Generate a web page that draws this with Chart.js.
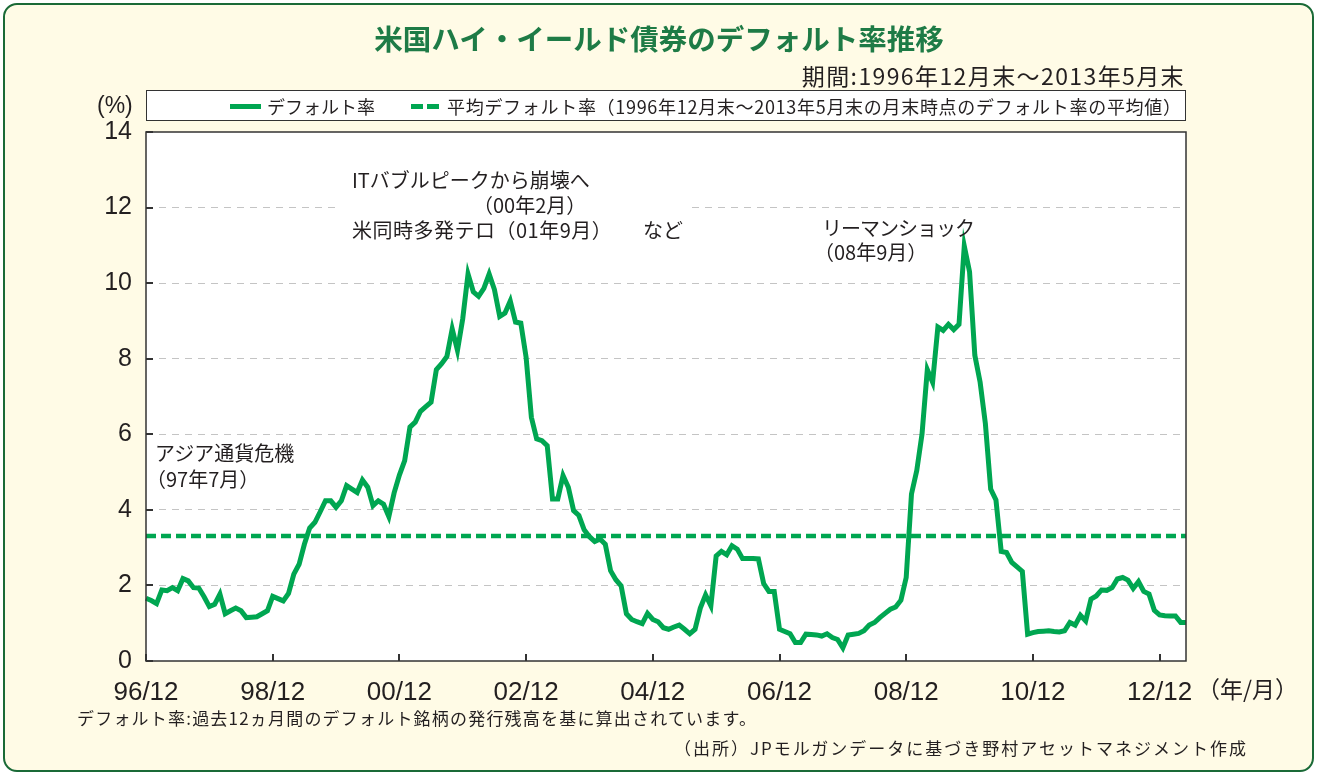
<!DOCTYPE html>
<html lang="ja">
<head>
<meta charset="UTF-8">
<title>米国ハイ・イールド債券のデフォルト率推移</title>
<script src="https://cdn.jsdelivr.net/npm/chart.js"></script>
<style>
    body { margin: 0; background: #ffffff; }
    #page {
        position: relative;
        width: 1318px;
        height: 775px;
        overflow: hidden;
        font-family: 'Noto Sans CJK JP', 'Noto Sans', sans-serif;
        color: #231f20;
    }
    #frame {
        position: absolute;
        left: 3px; top: 3px;
        width: 1307px; height: 765px;
        border: 2.5px solid #1a6a37;
        border-radius: 14px;
        background: #fffbe6;
    }
    #chart { position: absolute; left: 0; top: 0; }
    .txt { position: absolute; white-space: nowrap; }
    #title {
        left: 0; width: 1318px; text-align: center;
        top: 23px; line-height: 30px;
        font-size: 28.5px; font-weight: bold; color: #1e7b46;
    }
    #period { right: 133px; top: 62px; line-height: 26px; font-size: 23px; letter-spacing: 1.4px; }
    #unit { left: 97px; top: 92px; line-height: 26px; font-size: 23px; font-family: 'Liberation Sans', Arial, sans-serif; }
    #legend {
        position: absolute;
        left: 146px; top: 90px;
        width: 1038px; height: 29px;
        border: 1.5px solid #333;
        background: #fff;
    }
    .swatch { position: absolute; height: 5px; background: #00a651; top: 13px; }
    .legtxt { position: absolute; top: 3px; line-height: 24px; font-size: 18px; }
    .note { font-size: 20px; line-height: 25px; }
    #itbox { position: absolute; left: 335px; top: 164px; width: 355px; height: 78px; background: #fff; }
    #xunit { left: 1197px; top: 675px; line-height: 26px; font-size: 23px; }
    #foot { left: 77px; top: 707px; line-height: 22px; font-size: 17px; letter-spacing: 1.2px; }
    #source { right: 70px; top: 737px; line-height: 22px; font-size: 17px; letter-spacing: 2px; }
</style>
</head>
<body>
<div id="page">
    <div id="frame"></div>
    <canvas id="chart" width="1318" height="775"></canvas>

    <div class="txt" id="title">米国ハイ・イールド債券のデフォルト率推移</div>
    <div class="txt" id="period">期間:1996年12月末～2013年5月末</div>
    <div class="txt" id="unit">(%)</div>

    <div id="legend">
        <div class="swatch" style="left:83px; width:31px;"></div>
        <div class="txt legtxt" style="left:120px;">デフォルト率</div>
        <div class="swatch" style="left:264px; width:12px;"></div>
        <div class="swatch" style="left:280px; width:12px;"></div>
        <div class="txt legtxt" style="left:300px; letter-spacing:0.7px;">平均デフォルト率（1996年12月末～2013年5月末の月末時点のデフォルト率の平均値）</div>
    </div>

    <div id="itbox"></div>
    <div class="txt note" style="left:352px; top:167px;">ITバブルピークから崩壊へ</div>
    <div class="txt note" style="left:473px; top:192px;">（00年2月）</div>
    <div class="txt note" style="left:352px; top:217px; letter-spacing:0.5px;">米同時多発テロ（01年9月）</div>
    <div class="txt note" style="left:643px; top:217px;">など</div>

    <div class="txt note" style="left:822px; top:215px; letter-spacing:-1px;">リーマンショック</div>
    <div class="txt note" style="left:814px; top:239px;">（08年9月）</div>

    <div class="txt note" style="left:155px; top:440px;">アジア通貨危機</div>
    <div class="txt note" style="left:146px; top:466px;">（97年7月）</div>

    <div class="txt" id="xunit">（年/月）</div>
    <div class="txt" id="foot">デフォルト率:過去12ヵ月間のデフォルト銘柄の発行残高を基に算出されています。</div>
    <div class="txt" id="source">（出所）JPモルガンデータに基づき野村アセットマネジメント作成</div>
</div>

<script>
    // monthly default rate (%), 1996/12 - 2013/5
    const defaultRate = [
        1.66, 1.60, 1.52, 1.88, 1.86, 1.94, 1.86, 2.18, 2.12, 1.94, 1.93, 1.70,
        1.44, 1.50, 1.77, 1.25, 1.33, 1.40, 1.33, 1.15, 1.16, 1.17, 1.25, 1.33,
        1.71, 1.65, 1.59, 1.79, 2.30, 2.56, 3.09, 3.52, 3.67, 3.95, 4.24, 4.24,
        4.07, 4.24, 4.64, 4.55, 4.46, 4.79, 4.60, 4.11, 4.24, 4.15, 3.82, 4.45,
        4.92, 5.30, 6.19, 6.32, 6.61, 6.73, 6.85, 7.71, 7.87, 8.06, 8.79, 8.22,
        9.06, 10.24, 9.77, 9.65, 9.86, 10.24, 9.83, 9.12, 9.21, 9.53, 8.97, 8.94,
        8.04, 6.45, 5.88, 5.83, 5.70, 4.29, 4.29, 4.91, 4.60, 3.98, 3.85, 3.47,
        3.29, 3.16, 3.23, 3.09, 2.39, 2.15, 1.99, 1.25, 1.10, 1.04, 0.99, 1.26,
        1.10, 1.04, 0.88, 0.84, 0.90, 0.95, 0.84, 0.72, 0.84, 1.40, 1.75, 1.46,
        2.78, 2.90, 2.81, 3.05, 2.96, 2.71, 2.71, 2.71, 2.70, 2.05, 1.84, 1.84,
        0.84, 0.78, 0.72, 0.49, 0.49, 0.71, 0.70, 0.69, 0.66, 0.72, 0.62, 0.57,
        0.35, 0.69, 0.71, 0.73, 0.80, 0.95, 1.02, 1.15, 1.26, 1.37, 1.43, 1.61,
        2.21, 4.42, 5.04, 6.01, 7.71, 7.38, 8.84, 8.75, 8.91, 8.77, 8.91, 10.98,
        10.30, 8.09, 7.38, 6.28, 4.55, 4.26, 2.90, 2.87, 2.61, 2.49, 2.37, 0.71,
        0.75, 0.78, 0.79, 0.80, 0.78, 0.77, 0.80, 1.02, 0.95, 1.21, 1.06, 1.64,
        1.72, 1.88, 1.87, 1.94, 2.17, 2.21, 2.14, 1.92, 2.10, 1.84, 1.77, 1.34,
        1.22, 1.20, 1.19, 1.19, 1.02, 1.02
    ];
    const averageRate = 3.31;
    const xTickLabels = ['96/12', '98/12', '00/12', '02/12', '04/12', '06/12', '08/12', '10/12', '12/12'];
    const yTicks = [0, 2, 4, 6, 8, 10, 12, 14];

    // month labels yy/mm starting at 96/12
    const months = defaultRate.map((v, i) => {
        const y = 1996 + Math.floor((11 + i) / 12);
        const m = (11 + i) % 12 + 1;
        return String(y).slice(2) + '/' + String(m).padStart(2, '0');
    });

    const GREEN = '#00a651';
    const fontFamily = "'Liberation Sans', Arial, sans-serif";

    // white plot area, frame and inward tick marks
    const framePlugin = {
        id: 'framePlugin',
        beforeDraw(chart) {
            const a = chart.chartArea, ctx = chart.ctx;
            ctx.save();
            ctx.fillStyle = '#ffffff';
            ctx.fillRect(a.left, a.top, a.right - a.left, a.bottom - a.top);
            ctx.restore();
        },
        afterDraw(chart) {
            const a = chart.chartArea, ctx = chart.ctx;
            const xs = chart.scales.x, ys = chart.scales.y;
            ctx.save();
            ctx.strokeStyle = '#333';
            ctx.lineWidth = 1.5;
            ctx.strokeRect(a.left, a.top, a.right - a.left, a.bottom - a.top);
            ctx.lineWidth = 2;
            ctx.beginPath();
            yTicks.forEach(v => {
                const py = Math.round(ys.getPixelForValue(v));
                ctx.moveTo(a.left, py);
                ctx.lineTo(a.left + 7, py);
            });
            xTickLabels.forEach((t, k) => {
                const px = Math.round(xs.getPixelForValue(k * 24));
                ctx.moveTo(px, a.bottom);
                ctx.lineTo(px, a.bottom - 7);
            });
            ctx.stroke();
            ctx.restore();
        }
    };

    new Chart(document.getElementById('chart'), {
        type: 'line',
        data: {
            labels: months,
            datasets: [{
                label: 'デフォルト率',
                data: defaultRate,
                borderColor: GREEN,
                borderWidth: 5,
                pointRadius: 0,
                tension: 0,
                order: 1
            }, {
                label: '平均デフォルト率',
                data: months.map(() => averageRate),
                borderColor: GREEN,
                borderWidth: 4.5,
                borderDash: [10, 5],
                pointRadius: 0,
                order: 2
            }]
        },
        options: {
            responsive: false,
            animation: false,
            events: [],
            layout: { padding: { left: 96, top: 132, right: 132, bottom: 69 } },
            plugins: { legend: { display: false }, tooltip: { enabled: false } },
            scales: {
                x: {
                    type: 'category',
                    offset: false,
                    grid: { display: false },
                    border: { display: false },
                    ticks: {
                        autoSkip: false,
                        maxRotation: 0,
                        padding: 8,
                        color: '#231f20',
                        font: { family: fontFamily, size: 26 },
                        callback: (val, i) => (i % 24 === 0 ? xTickLabels[i / 24] : null)
                    },
                    afterFit: s => { s.height = 45; }
                },
                y: {
                    min: 0,
                    max: 14,
                    border: { display: false, dash: [7, 6] },
                    grid: {
                        drawTicks: false,
                        lineWidth: 1,
                        color: c => (c.tick && (c.tick.value === 0 || c.tick.value === 14)) ? 'rgba(0,0,0,0)' : '#c4c4c4'
                    },
                    ticks: {
                        stepSize: 2,
                        padding: 14,
                        color: '#231f20',
                        font: { family: fontFamily, size: 25 }
                    },
                    afterFit: s => { s.width = 50; }
                }
            }
        },
        plugins: [framePlugin]
    });
</script>
</body>
</html>
